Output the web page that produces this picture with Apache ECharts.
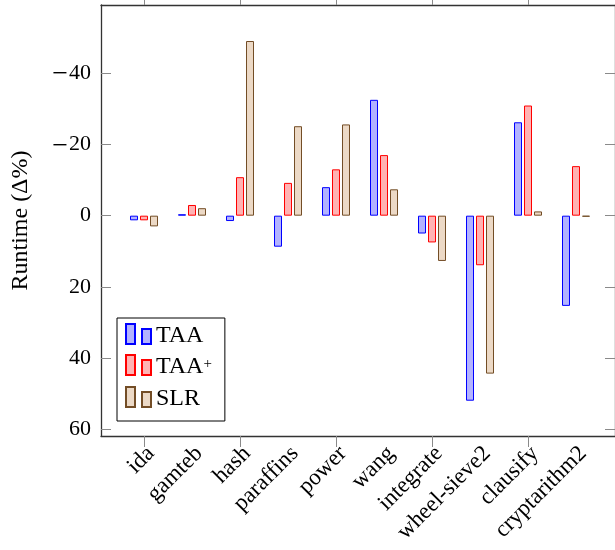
<!DOCTYPE html>
<html>
<head>
<meta charset="utf-8">
<script src="https://cdn.jsdelivr.net/npm/echarts@6/dist/echarts.min.js"></script>
<style>
  html, body { margin: 0; padding: 0; background: #fff; }
  #main { width: 615px; height: 550px; }
</style>
</head>
<body>
<div id="main"></div>
<script>
// benchmarks on the x axis
const categories = ['ida', 'gamteb', 'hash', 'paraffins', 'power', 'wang',
  'integrate', 'wheel-sieve2', 'clausify', 'cryptarithm2'];

// runtime change in %, negative = faster (drawn upwards, axis is reversed)
const taa     = [1.3, -0.4, 1.5, 8.7, -8.0, -32.5, 5.0, 51.9, -26.2, 25.3];
const taaPlus = [1.3, -3.0, -10.8, -9.2, -13.0, -17.0, 7.5, 13.9, -30.9, -13.9];
const slr     = [3.0, -2.1, -49.0, -25.1, -25.6, -7.4, 12.7, 44.3, -1.2, 0.3];

const yTicks = [-40, -20, 0, 20, 40, 60];
const yMin = -59.1, yMax = 61.8;

const FONT = 'Liberation Serif';
const tickGrey = '#8a8a8a';
const frameCol = '#333';

const chart = echarts.init(document.getElementById('main'), null, { renderer: 'canvas' });

// legend icon: two little bars like pgfplots ybar legend
const barIcon = 'path://M0,0h9v20h-9z M16,5h9v15h-9z';

// wide minus like TeX math
function minusFmt(v) {
  return v < 0 ? '{m|\u2212}{n|' + (-v) + '}' : '{n|' + v + '}';
}

function makeBar(name, data, fill, stroke) {
  return {
    name: name,
    type: 'bar',
    xAxisIndex: 0,
    yAxisIndex: 0,
    data: data,
    barWidth: 8,
    barGap: '25%',
    itemStyle: { color: fill, borderColor: stroke, borderWidth: 1 },
    emphasis: { disabled: true },
    animation: false
  };
}

// plain line for the box around the plot
function frameX(pos) {
  return {
    type: 'value',
    gridIndex: 1,
    position: pos,
    min: 0, max: 1,
    axisLine: { show: true, onZero: false, lineStyle: { color: frameCol, width: 1.3 } },
    axisTick: { show: false },
    axisLabel: { show: false },
    splitLine: { show: false }
  };
}

const option = {
  animation: false,
  textStyle: { fontFamily: FONT },
  grid: [
    // bars: one 48px band per benchmark
    { left: 120, width: 480, top: 5, bottom: 114 },
    // frame + y ticks
    { left: 101, right: -4, top: 5, bottom: 114 },
    // rotated benchmark names, nudged a bit right/down
    { left: 127, width: 480, top: 5, bottom: 110 }
  ],
  legend: {
    orient: 'vertical',
    left: 117,
    top: 318,
    data: ['TAA', 'TAA+', 'SLR'],
    icon: barIcon,
    itemWidth: 25,
    itemHeight: 20,
    itemGap: 3,
    padding: [2, 13, 10, 8],
    borderColor: '#000',
    borderWidth: 1,
    backgroundColor: '#fff',
    selectedMode: false,
    formatter: function (name) {
      if (name === 'TAA+') return '{b|TAA}{s|+}';
      return '{b|' + name + '}';
    },
    textStyle: {
      fontFamily: FONT,
      fontSize: 24,
      color: '#000',
      lineHeight: 20,
      rich: {
        b: { fontFamily: FONT, fontSize: 24, color: '#000', lineHeight: 16, padding: [4, 0, 0, 0] },
        s: { fontFamily: FONT, fontSize: 15, color: '#000', lineHeight: 10, padding: [0, 0, 8, 0], verticalAlign: 'top' }
      }
    }
  },
  xAxis: [
    {
      type: 'category',
      gridIndex: 0,
      position: 'bottom',
      data: categories,
      axisLine: { show: false, onZero: false },
      axisTick: { show: true, alignWithLabel: true, length: 11, lineStyle: { color: tickGrey } },
      axisLabel: { show: false },
      splitLine: { show: false }
    },
    {
      type: 'category',
      gridIndex: 0,
      position: 'top',
      data: categories,
      axisLine: { show: false, onZero: false },
      axisTick: { show: true, alignWithLabel: true, length: 5, lineStyle: { color: tickGrey } },
      axisLabel: { show: false },
      splitLine: { show: false }
    },
    frameX('bottom'),
    frameX('top'),
    {
      type: 'category',
      gridIndex: 2,
      position: 'bottom',
      data: categories,
      axisLine: { show: false, onZero: false },
      axisTick: { show: false },
      axisLabel: {
        rotate: 45,
        margin: 10,
        fontFamily: FONT,
        fontSize: 23,
        color: '#000',
        interval: 0
      },
      splitLine: { show: false }
    }
  ],
  yAxis: [
    {
      type: 'value',
      gridIndex: 0,
      inverse: true,
      min: yMin,
      max: yMax,
      show: false,
      splitLine: { show: false }
    },
    {
      type: 'value',
      gridIndex: 1,
      position: 'left',
      inverse: true,
      min: yMin,
      max: yMax,
      name: 'Runtime (\u0394%)',
      nameLocation: 'middle',
      nameGap: 68,
      nameRotate: 90,
      nameTextStyle: { fontFamily: FONT, fontSize: 24, color: '#000' },
      axisLine: { show: true, onZero: false, lineStyle: { color: frameCol, width: 1.3 } },
      axisTick: {
        show: true, inside: true, length: 10,
        customValues: yTicks,
        lineStyle: { color: tickGrey }
      },
      axisLabel: {
        customValues: yTicks,
        formatter: minusFmt,
        margin: 10,
        fontFamily: FONT,
        fontSize: 22,
        color: '#000',
        rich: {
          m: { fontFamily: FONT, fontSize: 28, color: '#000', padding: [4, 1, 0, 0] },
          n: { fontFamily: FONT, fontSize: 22, color: '#000' }
        }
      },
      splitLine: { show: false }
    },
    {
      type: 'value',
      gridIndex: 1,
      position: 'right',
      inverse: true,
      min: yMin,
      max: yMax,
      axisLine: { show: true, onZero: false, lineStyle: { color: frameCol, width: 1.3 } },
      axisTick: {
        show: true, inside: true, length: 10,
        customValues: yTicks,
        lineStyle: { color: tickGrey }
      },
      axisLabel: { show: false },
      splitLine: { show: false }
    },
    {
      type: 'value',
      gridIndex: 2,
      show: false,
      splitLine: { show: false }
    }
  ],
  series: [
    makeBar('TAA', taa, '#b3b3ff', '#0000ff'),
    makeBar('TAA+', taaPlus, '#ffb3b3', '#ff0000'),
    makeBar('SLR', slr, '#ecd9c6', '#734d26')
  ]
};

chart.setOption(option);
</script>
</body>
</html>
